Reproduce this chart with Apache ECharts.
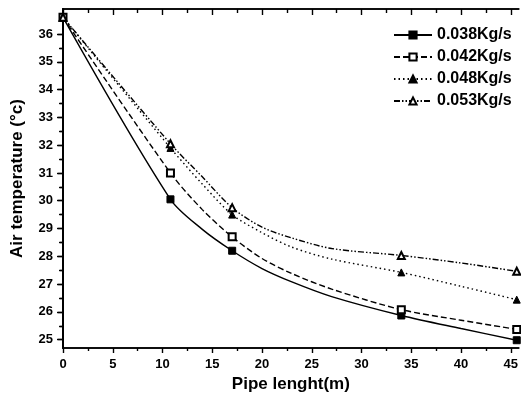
<!DOCTYPE html>
<html>
<head>
<meta charset="utf-8">
<title>Air temperature vs pipe length</title>
<script src="https://cdn.jsdelivr.net/npm/echarts@6/dist/echarts.min.js"></script>
<style>
  html, body { margin: 0; padding: 0; background: #fff; }
  #container { width: 521px; height: 401px; }
</style>
</head>
<body>
<div id="container"></div>
<script>
// values read off the picture: the curves are sampled at curveX,
// the markers sit on the points listed in markerX
var seriesNames = ['0.038Kg/s', '0.042Kg/s', '0.048Kg/s', '0.053Kg/s'];
var curveX  = [0, 10.8, 14, 17, 20, 23, 27, 34, 40, 45.6];
var markerX = [0, 10.8, 17, 34, 45.6];
var temp038 = [36.6, 30.05, 28.97, 28.2, 27.56, 27.08, 26.55, 25.87, 25.40, 24.98];
var temp042 = [36.6, 31.0, 29.68, 28.7, 27.92, 27.38, 26.82, 26.08, 25.70, 25.37];
var temp048 = [36.6, 31.9, 30.6, 29.5, 28.85, 28.33, 27.9, 27.42, 26.92, 26.44];
var temp053 = [36.6, 32.05, 30.86, 29.75, 29.05, 28.66, 28.28, 28.03, 27.76, 27.46];
var xTicks = [0, 5, 10, 15, 20, 25, 30, 35, 40, 45];
var xMinor = [2.5, 7.5, 12.5, 17.5, 22.5, 27.5, 32.5, 37.5, 42.5];
var yTicks = [25, 26, 27, 28, 29, 30, 31, 32, 33, 34, 35, 36];
var yMinor = [25.5, 26.5, 27.5, 28.5, 29.5, 30.5, 31.5, 32.5, 33.5, 34.5, 35.5, 36.5];

var X_MIN = 0, X_MAX = 45.8, Y_MIN = 24.7, Y_MAX = 36.9;
var font = 'Liberation Sans, Arial, sans-serif';
var axisLine = { show: true, lineStyle: { color: '#000', width: 1.6 } };

// curve points, with a marker only where the picture has one
function curveData(ys) {
  return curveX.map(function (x, i) {
    var item = { value: [x, ys[i]] };
    if (markerX.indexOf(x) === -1) item.symbol = 'none';
    return item;
  });
}

var dom = document.getElementById('container');
var myChart = echarts.init(dom, null, { renderer: 'canvas' });

function xAx(pos, ticks, len, inside, labels) {
  return {
    type: 'value', position: pos, min: X_MIN, max: X_MAX,
    axisLine: axisLine,
    splitLine: { show: false },
    axisTick: { show: true, inside: inside, length: len, customValues: ticks, lineStyle: { color: '#000', width: 1.4 } },
    axisLabel: labels ? { show: true, customValues: xTicks, margin: 10, color: '#000', fontFamily: font, fontWeight: 'bold', fontSize: 13 } : { show: false }
  };
}
function yAx(pos, ticks, len, inside, labels) {
  return {
    type: 'value', position: pos, min: Y_MIN, max: Y_MAX,
    axisLine: axisLine,
    splitLine: { show: false },
    axisTick: { show: true, inside: inside, length: len, customValues: ticks, lineStyle: { color: '#000', width: 1.4 } },
    axisLabel: labels ? { show: true, customValues: yTicks, margin: 10, color: '#000', fontFamily: font, fontWeight: 'bold', fontSize: 13 } : { show: false }
  };
}

var xMain = xAx('bottom', xTicks, 5, false, true);
xMain.name = 'Pipe lenght(m)';
xMain.nameLocation = 'middle';
xMain.nameGap = 28;
xMain.nameTextStyle = { color: '#000', fontFamily: font, fontWeight: 'bold', fontSize: 17 };

var yMain = yAx('left', yTicks, 5, false, true);
yMain.name = 'Air temperature (°c)';
yMain.nameLocation = 'middle';
yMain.nameGap = 37;
yMain.nameTextStyle = { color: '#000', fontFamily: font, fontWeight: 'bold', fontSize: 17 };

function line(name, ys, symbol, dash) {
  return {
    name: name, type: 'line', smooth: 0.3,
    xAxisIndex: 0, yAxisIndex: 0,
    data: curveData(ys),
    symbol: symbol, symbolSize: 7, showAllSymbol: true,
    itemStyle: { color: '#000', borderColor: '#000', borderWidth: 1 },
    lineStyle: { color: '#000', width: 1.4, type: dash },
    animation: false
  };
}

var option = {
  animation: false,
  grid: { left: 63, right: 0, top: 9, bottom: 53 },
  legend: {
    orient: 'vertical', left: 393, top: 27, padding: 0,
    itemWidth: 38, itemHeight: 9, itemGap: 6,
    textStyle: { color: '#000', fontFamily: font, fontWeight: 'bold', fontSize: 16 },
    data: seriesNames
  },
  xAxis: [
    xMain,
    xAx('bottom', xMinor, 3, false, false),
    xAx('top', xTicks, 6, true, false),
    xAx('top', xMinor, 4, true, false)
  ],
  yAxis: [
    yMain,
    yAx('left', yMinor, 3, false, false),
    yAx('right', yTicks, 6, true, false),
    yAx('right', yMinor, 4, true, false)
  ],
  series: [
    line(seriesNames[0], temp038, 'rect', 'solid'),
    line(seriesNames[1], temp042, 'emptyRect', [6, 3]),
    line(seriesNames[2], temp048, 'triangle', [1.5, 3]),
    line(seriesNames[3], temp053, 'emptyTriangle', [6, 2, 1.5, 2, 1.5, 2])
  ]
};

myChart.setOption(option);
window.addEventListener('resize', myChart.resize);
</script>
</body>
</html>
